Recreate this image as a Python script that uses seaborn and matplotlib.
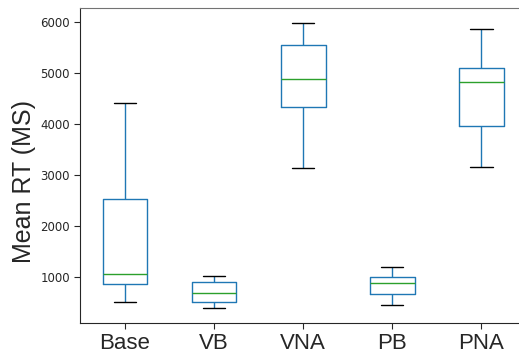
import matplotlib
matplotlib.use("Agg")
import matplotlib.pyplot as plt
import pandas as pd
import seaborn as sns
import numpy as np

sns.set_style("ticks")
plt.rcParams["font.family"] = ["DejaVu Sans"]

# ------------------------------------------------------
# Data (whisker low, Q1, median, Q3, whisker high)
# ------------------------------------------------------
conditions = ["Base", "VB", "VNA", "PB", "PNA"]
base_rt = [516, 869, 1064, 2531, 4415]
vb_rt = [393, 516, 699, 914, 1025]
vna_rt = [3132, 4337, 4873, 5544, 5980]
pb_rt = [452, 673, 894, 1000, 1195]
pna_rt = [3157, 3959, 4826, 5088, 5851]

df = pd.DataFrame({
    "condition": np.repeat(conditions, 5),
    "rt": base_rt + vb_rt + vna_rt + pb_rt + pna_rt,
})

# ------------------------------------------------------
# Plot
# ------------------------------------------------------
fig = plt.figure(figsize=(5.19, 3.56), dpi=100)
ax = fig.add_axes([0.155, 0.0935, 0.8585, 0.8832])

sns.boxplot(
    data=df, x="condition", y="rt", order=conditions,
    fill=False, width=0.5, whis=np.inf, linewidth=1,
    color="#1f77b4",
    medianprops={"color": "#2ca02c"},
    whiskerprops={"color": "#1f77b4"},
    capprops={"color": "black"},
    ax=ax,
)

ax.set_xlim(-0.5, 4.5)
ax.set_ylim(110, 6260)
ax.set_yticks([1000, 2000, 3000, 4000, 5000, 6000])
ax.spines["right"].set_visible(False)
ax.spines["top"].set_color("0.45")
ax.tick_params(axis="y", labelsize=8.5, length=4)
ax.tick_params(axis="x", length=4)
for lbl in ax.get_xticklabels():
    lbl.set_fontfamily("Liberation Sans")
    lbl.set_fontsize(16)
ax.set_xlabel("")
ax.set_ylabel("Mean RT (MS)", fontsize=18, family="Liberation Sans")
ax.yaxis.set_label_coords(-0.1, 0.45)

fig.savefig("out.png", dpi=100)
